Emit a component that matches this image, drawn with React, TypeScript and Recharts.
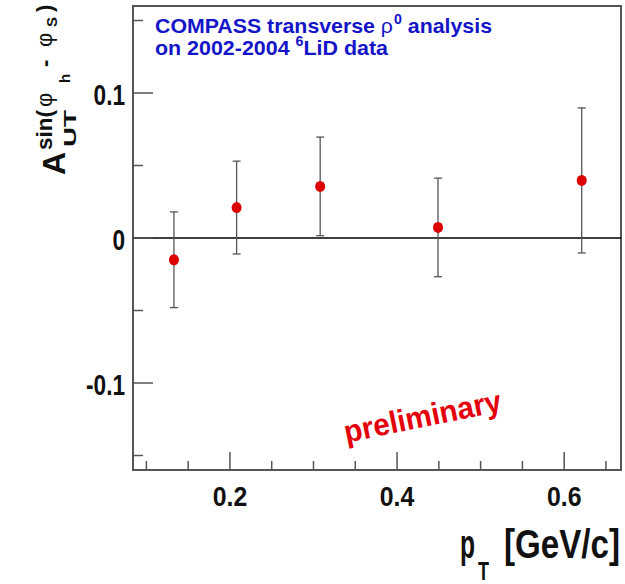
import { ScatterChart, Scatter, XAxis, YAxis, ErrorBar, ReferenceLine, ReferenceArea } from 'recharts'

// A_UT^{sin(phi_h - phi_S)} vs p_T, COMPASS 6LiD 2002-2004
const ptValues = [0.133, 0.208, 0.308, 0.449, 0.621]
const asymValues = [-0.015, 0.021, 0.0356, 0.0073, 0.0397]
const asymErrors = [0.033, 0.032, 0.034, 0.034, 0.05]

const xTicks = [0.1, 0.15, 0.2, 0.25, 0.3, 0.35, 0.4, 0.45, 0.5, 0.55, 0.6, 0.65]
const xLabelled = [0.2, 0.4, 0.6]
const yTicks = [-0.15, -0.1, -0.05, 0, 0.05, 0.1, 0.15]
const yLabelled = [-0.1, 0, 0.1]

const xDomain: [number, number] = [0.084, 0.668]
const yDomain: [number, number] = [-0.16, 0.16]

const data = ptValues.map((pt, i) => ({ pt, asym: asymValues[i], err: asymErrors[i] }))

const FONT = '"Liberation Sans", Arial, Helvetica, sans-serif'
const AXIS = '#555'
const BLUE = '#1414c8'
const RED = '#dd0000'

const isIn = (list: number[], v: number) => list.some((t) => Math.abs(t - v) < 1e-6)

function XTick(props: any) {
  const { x, y, payload } = props
  const major = isIn(xLabelled, payload.value)
  return (
    <g>
      <line x1={x} y1={y} x2={x} y2={y - (major ? 18 : 9)} stroke={AXIS} strokeWidth={1.5} />
      {major && (
        <text
          transform={`translate(${x},${y + 36}) scale(0.92,1)`}
          textAnchor="middle"
          fontFamily={FONT}
          fontWeight="bold"
          fontSize={27}
          fill="#111"
        >
          {String(payload.value)}
        </text>
      )}
    </g>
  )
}

function YTick(props: any) {
  const { x, y, payload } = props
  const major = isIn(yLabelled, payload.value)
  return (
    <g>
      <line x1={x} y1={y} x2={x + (major ? 20 : 10)} y2={y} stroke={AXIS} strokeWidth={1.5} />
      {major && (
        <text
          transform={`translate(${x - 8},${y + 12}) scale(0.78,1)`}
          textAnchor="end"
          fontFamily={FONT}
          fontWeight="bold"
          fontSize={29}
          fill="#111"
        >
          {String(payload.value)}
        </text>
      )}
    </g>
  )
}

// one piece of the rotated y-axis title, placed by its baseline start point
function VText({ x, y, size, len, bold = true, children }: any) {
  return (
    <text
      transform={`translate(${x},${y}) rotate(-90)`}
      fontFamily={FONT}
      fontWeight={bold ? 'bold' : 'normal'}
      fontSize={size}
      fill="#111"
      textLength={len}
      lengthAdjust={len ? 'spacingAndGlyphs' : undefined}
    >
      {children}
    </text>
  )
}

export default function App() {
  return (
    <div style={{ position: 'absolute', left: 0, top: 0, width: 625, height: 584, background: '#fff' }}>
      <ScatterChart width={625} height={584} margin={{ top: 6, right: 4, left: 53, bottom: 54 }}>
        <XAxis
          type="number"
          dataKey="pt"
          domain={xDomain}
          allowDataOverflow
          ticks={xTicks}
          interval={0}
          tickSize={0}
          tickMargin={0}
          axisLine={false}
          tickLine={false}
          height={60}
          tick={(p: any) => <XTick {...p} />}
        />
        <YAxis
          type="number"
          dataKey="asym"
          domain={yDomain}
          allowDataOverflow
          ticks={yTicks}
          interval={0}
          tickSize={0}
          tickMargin={0}
          axisLine={false}
          tickLine={false}
          width={80}
          tick={(p: any) => <YTick {...p} />}
        />
        <ReferenceArea
          x1={xDomain[0]}
          x2={xDomain[1]}
          y1={yDomain[0]}
          y2={yDomain[1]}
          fill="none"
          fillOpacity={0}
          stroke={AXIS}
          strokeWidth={2}
          ifOverflow="visible"
        />
        <ReferenceLine y={0} stroke="#000" strokeWidth={1.5} />
        <Scatter
          data={data}
          isAnimationActive={false}
          fill={RED}
          shape={(p: any) => <ellipse cx={p.cx} cy={p.cy} rx={5} ry={5.5} fill={RED} />}
        >
          <ErrorBar dataKey="err" direction="y" width={4} stroke={AXIS} strokeWidth={1.3} />
        </Scatter>

        <g fontFamily={FONT} fontWeight="bold" fill={BLUE}>
          <text x={155} y={33} fontSize={21} textLength={337} lengthAdjust="spacingAndGlyphs">
            {'COMPASS transverse '}
            <tspan fontWeight="normal">ρ</tspan>
            <tspan fontSize={14} dx={1} dy={-9}>0</tspan>
            <tspan dy={9}>{' analysis'}</tspan>
          </text>
          <text x={155} y={55} fontSize={21} textLength={233} lengthAdjust="spacingAndGlyphs">
            {'on 2002-2004 '}
            <tspan fontSize={14} dy={-9}>6</tspan>
            <tspan dy={9}>LiD data</tspan>
          </text>
        </g>

        <g>
          <VText x={65} y={175} size={31} len={23}>A</VText>
          <VText x={76} y={147} size={17} len={37}>UT</VText>
          <VText x={52} y={150} size={22} len={40}>sin(</VText>
          <VText x={52} y={107} size={22} bold={false}>φ</VText>
          <VText x={70} y={83} size={15}>h</VText>
          <VText x={52} y={67} size={22}>-</VText>
          <VText x={52} y={47} size={22} bold={false}>φ</VText>
          <VText x={57} y={27} size={15}>S</VText>
          <VText x={52} y={12} size={22}>)</VText>
        </g>

        <g fontFamily={FONT} fontWeight="bold" fill="#111">
          <text x={460} y={558} fontSize={40} textLength={15} lengthAdjust="spacingAndGlyphs">p</text>
          <text x={478} y={580} fontSize={26} textLength={11} lengthAdjust="spacingAndGlyphs">T</text>
          <text x={504} y={558} fontSize={40} textLength={116} lengthAdjust="spacingAndGlyphs">[GeV/c]</text>
        </g>

        <g transform="translate(423,419) rotate(-11.5)">
          <text
            x={0}
            y={8}
            textAnchor="middle"
            fontFamily={FONT}
            fontWeight="bold"
            fontSize={31}
            fill="#e4000a"
            textLength={160}
            lengthAdjust="spacingAndGlyphs"
          >
            preliminary
          </text>
        </g>
      </ScatterChart>
    </div>
  )
}
